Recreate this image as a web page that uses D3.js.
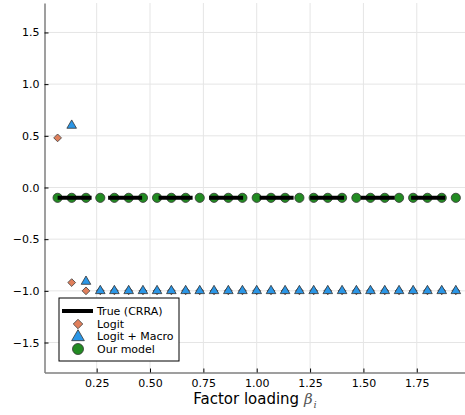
<!DOCTYPE html>
<html>
<head>
<meta charset="utf-8">
<script src="https://cdn.jsdelivr.net/npm/d3@7"></script>
<style>
  body { margin: 0; background: #fff; }
  text { font-family: "DejaVu Sans", sans-serif; }
</style>
</head>
<body>
<div id="chart"></div>
<script>
"use strict";

// factor loadings on the x axis
const BETAS = [0.067, 0.133, 0.2, 0.267, 0.333, 0.4, 0.467, 0.533, 0.6, 0.667,
  0.733, 0.8, 0.867, 0.933, 1.0, 1.067, 1.133, 1.2, 1.267, 1.333,
  1.4, 1.467, 1.533, 1.6, 1.667, 1.733, 1.8, 1.867, 1.933];

const TRUE_VALUE = -0.1;

const LOGIT = [0.48, -0.92, -1.0, -1.0, -1.0, -1.0, -1.0, -1.0, -1.0, -1.0,
  -1.0, -1.0, -1.0, -1.0, -1.0, -1.0, -1.0, -1.0, -1.0, -1.0,
  -1.0, -1.0, -1.0, -1.0, -1.0, -1.0, -1.0, -1.0, -1.0];

const LOGIT_MACRO = [null, 0.60, -0.91, -1.0, -1.0, -1.0, -1.0, -1.0, -1.0, -1.0,
  -1.0, -1.0, -1.0, -1.0, -1.0, -1.0, -1.0, -1.0, -1.0, -1.0,
  -1.0, -1.0, -1.0, -1.0, -1.0, -1.0, -1.0, -1.0, -1.0];

const OUR_MODEL = [-0.1, -0.1, -0.1, -0.1, -0.1, -0.1, -0.1, -0.1, -0.1, -0.1,
  -0.1, -0.1, -0.1, -0.1, -0.1, -0.1, -0.1, -0.1, -0.1, -0.1,
  -0.1, -0.1, -0.1, -0.1, -0.1, -0.1, -0.1, -0.1, -0.1];

const X_TICKS = [0.25, 0.5, 0.75, 1.0, 1.25, 1.5, 1.75];
const Y_TICKS = [-1.5, -1.0, -0.5, 0.0, 0.5, 1.0, 1.5];

const LEGEND = ["True (CRRA)", "Logit", "Logit + Macro", "Our model"];

const width = 465, height = 415;
const plotLeft = 44.5, plotRight = 465, plotTop = 3, plotBottom = 372.5;

const svg = d3.select("#chart")
  .append("svg")
  .attr("width", width)
  .attr("height", height);

const x = d3.scaleLinear().domain([0.0056, 1.976]).range([plotLeft, plotRight]);
const y = d3.scaleLinear().domain([-1.79, 1.785]).range([plotBottom, plotTop]);

// grid
svg.append("g")
  .selectAll("line")
  .data(X_TICKS)
  .enter()
  .append("line")
  .attr("x1", d => x(d)).attr("x2", d => x(d))
  .attr("y1", plotTop).attr("y2", plotBottom)
  .attr("stroke", "#e5e5e5");

svg.append("g")
  .selectAll("line")
  .data(Y_TICKS)
  .enter()
  .append("line")
  .attr("x1", plotLeft).attr("x2", plotRight)
  .attr("y1", d => y(d)).attr("y2", d => y(d))
  .attr("stroke", "#e5e5e5");

// axes (ticks pointing inwards)
const xAxis = svg.append("g")
  .attr("transform", `translate(0,${plotBottom})`)
  .call(d3.axisBottom(x).tickValues(X_TICKS).tickFormat(d3.format(".2f"))
    .tickSizeInner(-4).tickSizeOuter(0).tickPadding(7));

const yAxis = svg.append("g")
  .attr("transform", `translate(${plotLeft},0)`)
  .call(d3.axisLeft(y).tickValues(Y_TICKS).tickFormat(d3.format(".1f"))
    .tickSizeInner(-4).tickSizeOuter(0).tickPadding(5));

for (const ax of [xAxis, yAxis]) {
  ax.select(".domain").attr("stroke", "#7f7f7f").attr("stroke-width", 1.5);
  ax.selectAll(".tick line").attr("stroke", "#000").attr("stroke-width", 1);
  ax.selectAll(".tick text")
    .attr("font-size", 11)
    .attr("font-family", "DejaVu Sans, sans-serif")
    .attr("fill", "#000")
    .text(function () { return d3.select(this).text().replace("-", "\u2212"); });
}

const sym = (type, size) => d3.symbol().type(type).size(size)();

// Our model circles
svg.append("g")
  .selectAll("circle")
  .data(BETAS.map((b, i) => [b, OUR_MODEL[i]]))
  .enter()
  .append("circle")
  .attr("cx", d => x(d[0]))
  .attr("cy", d => y(d[1]))
  .attr("r", 4.6)
  .attr("fill", "#228b22")
  .attr("stroke", "#333")
  .attr("stroke-width", 0.8);

// True (CRRA), dashed thick line
svg.append("path")
  .datum([BETAS[0], BETAS[BETAS.length - 1]])
  .attr("d", d3.line().x(d => x(d)).y(() => y(TRUE_VALUE)))
  .attr("stroke", "#000")
  .attr("stroke-width", 4)
  .attr("stroke-dasharray", "34 16.5")
  .attr("fill", "none");

// Logit diamonds
svg.append("g")
  .selectAll("path")
  .data(BETAS.map((b, i) => [b, LOGIT[i]]).filter(d => d[1] !== null))
  .enter()
  .append("path")
  .attr("d", sym(d3.symbolSquare, 30))
  .attr("transform", d => `translate(${x(d[0])},${y(d[1])}) rotate(45)`)
  .attr("fill", "#e07f5b")
  .attr("stroke", "#444")
  .attr("stroke-width", 0.8);

// Logit + Macro triangles
svg.append("g")
  .selectAll("path")
  .data(BETAS.map((b, i) => [b, LOGIT_MACRO[i]]).filter(d => d[1] !== null))
  .enter()
  .append("path")
  .attr("d", sym(d3.symbolTriangle, 40))
  .attr("transform", d => `translate(${x(d[0])},${y(d[1])})`)
  .attr("fill", "#2b96e6")
  .attr("stroke", "#333")
  .attr("stroke-width", 0.8);

// legend
const lg = svg.append("g").attr("transform", "translate(59,298)");
lg.append("rect")
  .attr("width", 120).attr("height", 63)
  .attr("fill", "#fff").attr("stroke", "#000").attr("stroke-width", 1);

const rowY = [13, 26, 38, 51];
lg.append("line")
  .attr("x1", 3).attr("x2", 34).attr("y1", rowY[0]).attr("y2", rowY[0])
  .attr("stroke", "#000").attr("stroke-width", 4);
lg.append("path")
  .attr("d", sym(d3.symbolSquare, 45))
  .attr("transform", `translate(19,${rowY[1]}) rotate(45)`)
  .attr("fill", "#e07f5b").attr("stroke", "#444").attr("stroke-width", 0.8);
lg.append("path")
  .attr("d", sym(d3.symbolTriangle, 70))
  .attr("transform", `translate(19,${rowY[2] + 1})`)
  .attr("fill", "#2b96e6").attr("stroke", "#333").attr("stroke-width", 0.8);
lg.append("circle")
  .attr("cx", 19).attr("cy", rowY[3]).attr("r", 5.5)
  .attr("fill", "#228b22").attr("stroke", "#333").attr("stroke-width", 0.8);

lg.selectAll("text.lab")
  .data(LEGEND)
  .enter()
  .append("text")
  .attr("class", "lab")
  .attr("x", 38)
  .attr("y", (d, i) => rowY[i] + 4)
  .attr("font-size", 11)
  .attr("fill", "#000")
  .text(d => d);

// x label
const xl = svg.append("text")
  .attr("x", 255)
  .attr("y", 404)
  .attr("text-anchor", "middle")
  .attr("font-size", 15)
  .attr("fill", "#000");
xl.append("tspan").text("Factor loading ");
xl.append("tspan").attr("font-style", "italic").attr("fill", "#555")
  .attr("font-family", "DejaVu Serif, serif").text("\u03b2");
xl.append("tspan").attr("font-style", "italic").attr("fill", "#555")
  .attr("font-family", "DejaVu Serif, serif")
  .attr("font-size", 10).attr("dx", 1).attr("dy", 4).text("i");
</script>
</body>
</html>
